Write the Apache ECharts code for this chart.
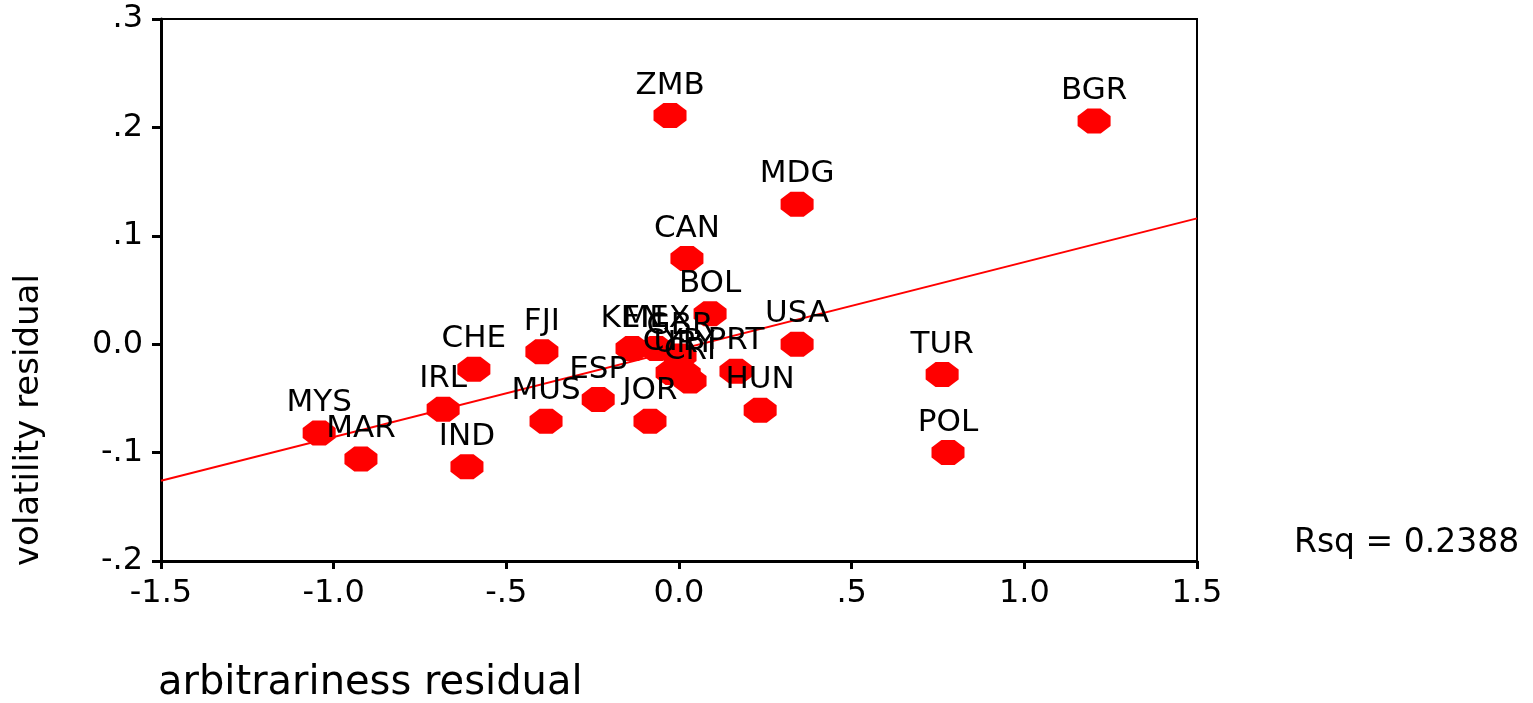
<!DOCTYPE html>
<html>
<head>
<meta charset="utf-8">
<script src="https://cdn.jsdelivr.net/npm/echarts@6/dist/echarts.min.js"></script>
<style>
  html, body { margin: 0; padding: 0; background: #fff; }
  #chart { width: 1533px; height: 703px; }
</style>
</head>
<body>
<div id="chart"></div>
<script>
// countries and their residuals
const countries = ['ZMB', 'BGR', 'MDG', 'CAN', 'BOL', 'USA', 'TUR', 'POL', 'HUN', 'PRT', 'JOR', 'ESP', 'MUS', 'FJI', 'CHE', 'IRL', 'IND', 'MYS', 'MAR', 'KEN', 'MEX', 'GBR', 'CYP', 'URY', 'CRI'];
const arbitrariness = [-0.026, 1.202, 0.342, 0.023, 0.09, 0.342, 0.762, 0.779, 0.235, 0.165, -0.084, -0.234, -0.385, -0.397, -0.594, -0.683, -0.614, -1.042, -0.921, -0.136, -0.066, 0.003, -0.02, 0.015, 0.032];
const volatility = [0.211, 0.206, 0.129, 0.079, 0.028, 0.0, -0.028, -0.1, -0.061, -0.025, -0.071, -0.051, -0.071, -0.007, -0.023, -0.06, -0.113, -0.082, -0.106, -0.004, -0.004, -0.011, -0.026, -0.027, -0.034];

// fitted line
const fitIntercept = -0.005;
const fitSlope = 0.0807;
const fitRange = [-1.5, 1.5];
const rsq = '0.2388';

const xTicks = { '-1.5': '-1.5', '-1': '-1.0', '-0.5': '-.5', '0': '0.0', '0.5': '.5', '1': '1.0', '1.5': '1.5' };
const yTicks = { '0.3': '.3', '0.2': '.2', '0.1': '.1', '0': '0.0', '-0.1': '-.1', '-0.2': '-.2' };

const font = 'DejaVu Sans';
// octagon marker like the original plot
const octagon = 'path://M3,0 L7,0 L10,3 L10,7 L7,10 L3,10 L0,7 L0,3 Z';

document.addEventListener('DOMContentLoaded', function () {
    const chart = echarts.init(document.getElementById('chart'));

    const points = countries.map(function (c, i) {
        return { name: c, value: [arbitrariness[i], volatility[i]] };
    });
    const fitLine = fitRange.map(function (x) {
        return [x, fitIntercept + fitSlope * x];
    });

    const option = {
        animation: false,
        backgroundColor: '#fff',
        grid: {
            left: 161,
            top: 19,
            right: 336,
            bottom: 142,
            show: true,
            borderColor: '#000',
            borderWidth: 2
        },
        xAxis: {
            type: 'value',
            min: -1.5,
            max: 1.5,
            interval: 0.5,
            splitLine: { show: false },
            axisLine: { onZero: false, lineStyle: { color: '#000', width: 3 } },
            axisTick: { length: 8, lineStyle: { color: '#000', width: 3 } },
            axisLabel: {
                margin: 17,
                color: '#000',
                fontFamily: font,
                fontSize: 32,
                formatter: function (v) {
                    const k = String(Math.round(v * 10) / 10);
                    return xTicks[k] !== undefined ? xTicks[k] : k;
                }
            }
        },
        yAxis: {
            type: 'value',
            min: -0.2,
            max: 0.3,
            interval: 0.1,
            splitLine: { show: false },
            axisLine: { onZero: false, lineStyle: { color: '#000', width: 3 } },
            axisTick: { length: 9, lineStyle: { color: '#000', width: 3 } },
            axisLabel: {
                margin: 18,
                color: '#000',
                fontFamily: font,
                fontSize: 32,
                formatter: function (v) {
                    const k = String(Math.round(v * 10) / 10);
                    return yTicks[k] !== undefined ? yTicks[k] : k;
                }
            }
        },
        series: [
            {
                type: 'line',
                data: fitLine,
                symbol: 'none',
                silent: true,
                lineStyle: { color: '#ff0000', width: 2 },
                z: 1
            },
            {
                type: 'scatter',
                data: points,
                symbol: octagon,
                symbolSize: [33, 25],
                itemStyle: { color: '#ff0000', opacity: 1 },
                label: {
                    show: true,
                    position: 'top',
                    distance: 2,
                    formatter: '{b}',
                    color: '#000',
                    fontFamily: font,
                    fontSize: 31
                },
                z: 2
            }
        ],
        graphic: [
            {
                type: 'text',
                left: 158,
                top: 664,
                style: { text: 'arbitrariness residual', fontFamily: font, fontSize: 40, fill: '#000' }
            },
            {
                type: 'text',
                x: 12,
                y: 566,
                rotation: Math.PI / 2,
                style: { text: 'volatility residual', fontFamily: font, fontSize: 34, fill: '#000' }
            },
            {
                type: 'text',
                left: 1294,
                top: 527,
                style: { text: 'Rsq = ' + rsq, fontFamily: font, fontSize: 33, fill: '#000' }
            }
        ]
    };
    chart.setOption(option);
});
</script>
</body>
</html>
